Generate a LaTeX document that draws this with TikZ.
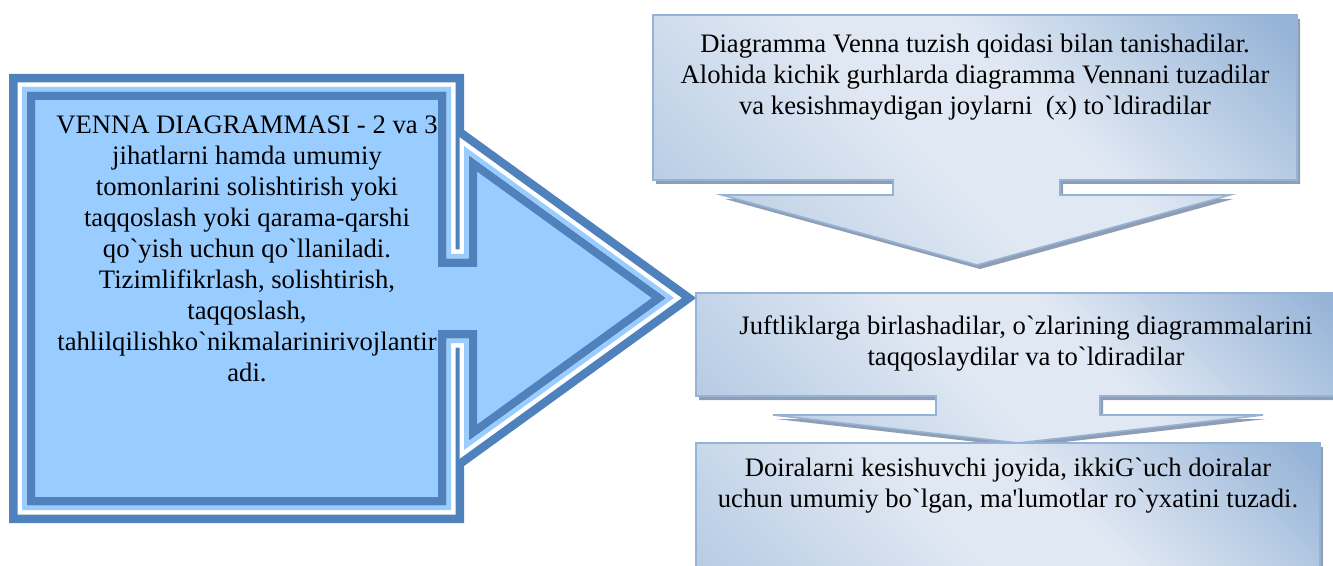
\documentclass[tikz,border=0pt]{standalone}
\usepackage{fontspec}
\setmainfont{Liberation Serif}
\definecolor{vendark}{RGB}{79,129,189}
\definecolor{venfill}{RGB}{153,204,255}
\definecolor{boxline}{RGB}{149,179,215}
\definecolor{boxlight}{RGB}{224,232,243}
\definecolor{boxmid}{RGB}{184,204,228}
\definecolor{boxdark}{RGB}{149,179,215}
\definecolor{boxshadow}{RGB}{143,158,178}
\pgfdeclareverticalshading{stepshade}{100bp}{color(0bp)=(boxmid); color(20bp)=(boxmid); color(45bp)=(boxlight); color(58bp)=(boxlight); color(84bp)=(boxdark); color(100bp)=(boxdark)}
\newcommand{\bq}{\textasciigrave{}}
\newcommand{\vennpath}{(22,87) -- (451,87) -- (451,254) -- (464,254) -- (464,146) -- (674,298) -- (464,450) -- (464,343) -- (451,343) -- (451,510) -- (22,510) -- cycle}
\newcommand{\stepone}{(653,15) -- (1297,15) -- (1297,180) -- (1060,180) -- (1060,195) -- (1230,195) -- (977,265) -- (722,195) -- (893,195) -- (893,180) -- (653,180) -- cycle}
\newcommand{\steptwo}{(696,293) -- (1340,293) -- (1340,396) -- (1100,396) -- (1100,415) -- (1263,415) -- (1018,443) -- (773,415) -- (936,415) -- (936,396) -- (696,396) -- cycle}
\newcommand{\stepthree}{(696,443) -- (1320,443) -- (1320,620) -- (696,620) -- cycle}
\begin{document}
\begin{tikzpicture}[
	x=0.75pt,
	y=-0.75pt,
	line join=miter,
	txt/.style={align=center,inner sep=0pt,anchor=north,font=\fontsize{20}{23.25}\selectfont},
	stepbox/.style={draw=boxline,line width=1.2pt,shading=stepshade,shading angle=-45},
	stepshadow/.style={fill=boxshadow,shift={(3,4)}}
	]
	\useasboundingbox (0,0) rectangle (1333,566);
	\fill[venfill] \vennpath;
	\draw[vendark,line width=19.5pt] \vennpath;
	\draw[white,line width=6.75pt] \vennpath;
	\begin{scope}
		\clip \vennpath;
		\draw[venfill,line width=6.75pt] \vennpath;
	\end{scope}
	\node[txt] (venna) at (247,116) {VENNA DIAGRAMMASI - 2 va 3\\jihatlarni hamda umumiy\\tomonlarini solishtirish yoki\\taqqoslash yoki qarama-qarshi\\qo\bq yish uchun qo\bq llaniladi.\\Tizimlifikrlash, solishtirish,\\taqqoslash,\\tahlilqilishko\bq nikmalarinirivojlantir\\adi.};
	\fill[stepshadow] \stepone;
	\shade[stepbox] \stepone;
	\node[txt] (tanish) at (975,34) {Diagramma Venna tuzish qoidasi bilan tanishadilar.\\Alohida kichik gurhlarda diagramma Vennani tuzadilar\\va kesishmaydigan joylarni\ \ (x) to\bq ldiradilar};
	\fill[stepshadow] \steptwo;
	\shade[stepbox] \steptwo;
	\node[txt] (juft) at (1026,315) {Juftliklarga birlashadilar, o\bq zlarining diagrammalarini\\taqqoslaydilar va to\bq ldiradilar};
	\fill[stepshadow] \stepthree;
	\shade[stepbox] \stepthree;
	\node[txt] (doira) at (1008,458) {Doiralarni kesishuvchi joyida, ikkiG\bq uch doiralar\\uchun umumiy bo\bq lgan, ma\textquotesingle lumotlar ro\bq yxatini tuzadi.};
\end{tikzpicture}
\end{document}
